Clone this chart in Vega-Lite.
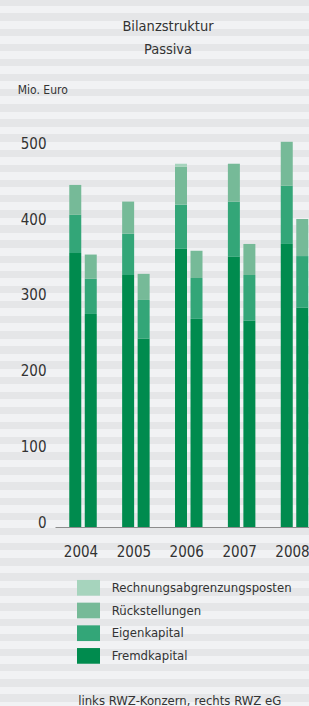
{
  "$schema": "https://vega.github.io/schema/vega-lite/v6.json",
  "width": 309,
  "height": 706,
  "autosize": {"type": "none"},
  "padding": 0,
  "background": "#eceef0",
  "view": {
    "stroke": null,
    "fill": {
      "gradient": "linear", "x1": 0, "y1": 0, "x2": 0, "y2": 1,
      "stops": [
        {"offset": 0, "color": "#e5e6e8"}, {"offset": 0.0080, "color": "#e5e6e8"}, {"offset": 0.0080, "color": "#f1f2f4"},
        {"offset": 0.0190, "color": "#f1f2f4"}, {"offset": 0.0190, "color": "#e5e6e8"}, {"offset": 0.0295, "color": "#e5e6e8"}, {"offset": 0.0295, "color": "#f1f2f4"},
        {"offset": 0.0404, "color": "#f1f2f4"}, {"offset": 0.0404, "color": "#e5e6e8"}, {"offset": 0.0509, "color": "#e5e6e8"}, {"offset": 0.0509, "color": "#f1f2f4"},
        {"offset": 0.0618, "color": "#f1f2f4"}, {"offset": 0.0618, "color": "#e5e6e8"}, {"offset": 0.0723, "color": "#e5e6e8"}, {"offset": 0.0723, "color": "#f1f2f4"},
        {"offset": 0.0833, "color": "#f1f2f4"}, {"offset": 0.0833, "color": "#e5e6e8"}, {"offset": 0.0938, "color": "#e5e6e8"}, {"offset": 0.0938, "color": "#f1f2f4"},
        {"offset": 0.1047, "color": "#f1f2f4"}, {"offset": 0.1047, "color": "#e5e6e8"}, {"offset": 0.1152, "color": "#e5e6e8"}, {"offset": 0.1152, "color": "#f1f2f4"},
        {"offset": 0.1261, "color": "#f1f2f4"}, {"offset": 0.1261, "color": "#e5e6e8"}, {"offset": 0.1366, "color": "#e5e6e8"}, {"offset": 0.1366, "color": "#f1f2f4"},
        {"offset": 0.1476, "color": "#f1f2f4"}, {"offset": 0.1476, "color": "#e5e6e8"}, {"offset": 0.1580, "color": "#e5e6e8"}, {"offset": 0.1580, "color": "#f1f2f4"},
        {"offset": 0.1690, "color": "#f1f2f4"}, {"offset": 0.1690, "color": "#e5e6e8"}, {"offset": 0.1795, "color": "#e5e6e8"}, {"offset": 0.1795, "color": "#f1f2f4"},
        {"offset": 0.1904, "color": "#f1f2f4"}, {"offset": 0.1904, "color": "#e5e6e8"}, {"offset": 0.2009, "color": "#e5e6e8"}, {"offset": 0.2009, "color": "#f1f2f4"},
        {"offset": 0.2119, "color": "#f1f2f4"}, {"offset": 0.2119, "color": "#e5e6e8"}, {"offset": 0.2223, "color": "#e5e6e8"}, {"offset": 0.2223, "color": "#f1f2f4"},
        {"offset": 0.2333, "color": "#f1f2f4"}, {"offset": 0.2333, "color": "#e5e6e8"}, {"offset": 0.2438, "color": "#e5e6e8"}, {"offset": 0.2438, "color": "#f1f2f4"},
        {"offset": 0.2547, "color": "#f1f2f4"}, {"offset": 0.2547, "color": "#e5e6e8"}, {"offset": 0.2652, "color": "#e5e6e8"}, {"offset": 0.2652, "color": "#f1f2f4"},
        {"offset": 0.2761, "color": "#f1f2f4"}, {"offset": 0.2761, "color": "#e5e6e8"}, {"offset": 0.2866, "color": "#e5e6e8"}, {"offset": 0.2866, "color": "#f1f2f4"},
        {"offset": 0.2976, "color": "#f1f2f4"}, {"offset": 0.2976, "color": "#e5e6e8"}, {"offset": 0.3081, "color": "#e5e6e8"}, {"offset": 0.3081, "color": "#f1f2f4"},
        {"offset": 0.3190, "color": "#f1f2f4"}, {"offset": 0.3190, "color": "#e5e6e8"}, {"offset": 0.3295, "color": "#e5e6e8"}, {"offset": 0.3295, "color": "#f1f2f4"},
        {"offset": 0.3404, "color": "#f1f2f4"}, {"offset": 0.3404, "color": "#e5e6e8"}, {"offset": 0.3509, "color": "#e5e6e8"}, {"offset": 0.3509, "color": "#f1f2f4"},
        {"offset": 0.3619, "color": "#f1f2f4"}, {"offset": 0.3619, "color": "#e5e6e8"}, {"offset": 0.3724, "color": "#e5e6e8"}, {"offset": 0.3724, "color": "#f1f2f4"},
        {"offset": 0.3833, "color": "#f1f2f4"}, {"offset": 0.3833, "color": "#e5e6e8"}, {"offset": 0.3938, "color": "#e5e6e8"}, {"offset": 0.3938, "color": "#f1f2f4"},
        {"offset": 0.4047, "color": "#f1f2f4"}, {"offset": 0.4047, "color": "#e5e6e8"}, {"offset": 0.4152, "color": "#e5e6e8"}, {"offset": 0.4152, "color": "#f1f2f4"},
        {"offset": 0.4262, "color": "#f1f2f4"}, {"offset": 0.4262, "color": "#e5e6e8"}, {"offset": 0.4366, "color": "#e5e6e8"}, {"offset": 0.4366, "color": "#f1f2f4"},
        {"offset": 0.4476, "color": "#f1f2f4"}, {"offset": 0.4476, "color": "#e5e6e8"}, {"offset": 0.4581, "color": "#e5e6e8"}, {"offset": 0.4581, "color": "#f1f2f4"},
        {"offset": 0.4690, "color": "#f1f2f4"}, {"offset": 0.4690, "color": "#e5e6e8"}, {"offset": 0.4795, "color": "#e5e6e8"}, {"offset": 0.4795, "color": "#f1f2f4"},
        {"offset": 0.4905, "color": "#f1f2f4"}, {"offset": 0.4905, "color": "#e5e6e8"}, {"offset": 0.5009, "color": "#e5e6e8"}, {"offset": 0.5009, "color": "#f1f2f4"},
        {"offset": 0.5119, "color": "#f1f2f4"}, {"offset": 0.5119, "color": "#e5e6e8"}, {"offset": 0.5224, "color": "#e5e6e8"}, {"offset": 0.5224, "color": "#f1f2f4"},
        {"offset": 0.5333, "color": "#f1f2f4"}, {"offset": 0.5333, "color": "#e5e6e8"}, {"offset": 0.5438, "color": "#e5e6e8"}, {"offset": 0.5438, "color": "#f1f2f4"},
        {"offset": 0.5547, "color": "#f1f2f4"}, {"offset": 0.5547, "color": "#e5e6e8"}, {"offset": 0.5652, "color": "#e5e6e8"}, {"offset": 0.5652, "color": "#f1f2f4"},
        {"offset": 0.5762, "color": "#f1f2f4"}, {"offset": 0.5762, "color": "#e5e6e8"}, {"offset": 0.5867, "color": "#e5e6e8"}, {"offset": 0.5867, "color": "#f1f2f4"},
        {"offset": 0.5976, "color": "#f1f2f4"}, {"offset": 0.5976, "color": "#e5e6e8"}, {"offset": 0.6081, "color": "#e5e6e8"}, {"offset": 0.6081, "color": "#f1f2f4"},
        {"offset": 0.6190, "color": "#f1f2f4"}, {"offset": 0.6190, "color": "#e5e6e8"}, {"offset": 0.6295, "color": "#e5e6e8"}, {"offset": 0.6295, "color": "#f1f2f4"},
        {"offset": 0.6405, "color": "#f1f2f4"}, {"offset": 0.6405, "color": "#e5e6e8"}, {"offset": 0.6509, "color": "#e5e6e8"}, {"offset": 0.6509, "color": "#f1f2f4"},
        {"offset": 0.6619, "color": "#f1f2f4"}, {"offset": 0.6619, "color": "#e5e6e8"}, {"offset": 0.6724, "color": "#e5e6e8"}, {"offset": 0.6724, "color": "#f1f2f4"},
        {"offset": 0.6833, "color": "#f1f2f4"}, {"offset": 0.6833, "color": "#e5e6e8"}, {"offset": 0.6938, "color": "#e5e6e8"}, {"offset": 0.6938, "color": "#f1f2f4"},
        {"offset": 0.7048, "color": "#f1f2f4"}, {"offset": 0.7048, "color": "#e5e6e8"}, {"offset": 0.7152, "color": "#e5e6e8"}, {"offset": 0.7152, "color": "#f1f2f4"},
        {"offset": 0.7262, "color": "#f1f2f4"}, {"offset": 0.7262, "color": "#e5e6e8"}, {"offset": 0.7367, "color": "#e5e6e8"}, {"offset": 0.7367, "color": "#f1f2f4"},
        {"offset": 0.7476, "color": "#f1f2f4"}, {"offset": 0.7476, "color": "#e5e6e8"}, {"offset": 0.7581, "color": "#e5e6e8"}, {"offset": 0.7581, "color": "#f1f2f4"},
        {"offset": 0.7691, "color": "#f1f2f4"}, {"offset": 0.7691, "color": "#e5e6e8"}, {"offset": 0.7795, "color": "#e5e6e8"}, {"offset": 0.7795, "color": "#f1f2f4"},
        {"offset": 0.7905, "color": "#f1f2f4"}, {"offset": 0.7905, "color": "#e5e6e8"}, {"offset": 0.8010, "color": "#e5e6e8"}, {"offset": 0.8010, "color": "#f1f2f4"},
        {"offset": 0.8119, "color": "#f1f2f4"}, {"offset": 0.8119, "color": "#e5e6e8"}, {"offset": 0.8224, "color": "#e5e6e8"}, {"offset": 0.8224, "color": "#f1f2f4"},
        {"offset": 0.8333, "color": "#f1f2f4"}, {"offset": 0.8333, "color": "#e5e6e8"}, {"offset": 0.8438, "color": "#e5e6e8"}, {"offset": 0.8438, "color": "#f1f2f4"},
        {"offset": 0.8548, "color": "#f1f2f4"}, {"offset": 0.8548, "color": "#e5e6e8"}, {"offset": 0.8653, "color": "#e5e6e8"}, {"offset": 0.8653, "color": "#f1f2f4"},
        {"offset": 0.8762, "color": "#f1f2f4"}, {"offset": 0.8762, "color": "#e5e6e8"}, {"offset": 0.8867, "color": "#e5e6e8"}, {"offset": 0.8867, "color": "#f1f2f4"},
        {"offset": 0.8976, "color": "#f1f2f4"}, {"offset": 0.8976, "color": "#e5e6e8"}, {"offset": 0.9081, "color": "#e5e6e8"}, {"offset": 0.9081, "color": "#f1f2f4"},
        {"offset": 0.9191, "color": "#f1f2f4"}, {"offset": 0.9191, "color": "#e5e6e8"}, {"offset": 0.9295, "color": "#e5e6e8"}, {"offset": 0.9295, "color": "#f1f2f4"},
        {"offset": 0.9405, "color": "#f1f2f4"}, {"offset": 0.9405, "color": "#e5e6e8"}, {"offset": 0.9510, "color": "#e5e6e8"}, {"offset": 0.9510, "color": "#f1f2f4"},
        {"offset": 0.9619, "color": "#f1f2f4"}, {"offset": 0.9619, "color": "#e5e6e8"}, {"offset": 0.9724, "color": "#e5e6e8"}, {"offset": 0.9724, "color": "#f1f2f4"},
        {"offset": 0.9834, "color": "#f1f2f4"}, {"offset": 0.9834, "color": "#e5e6e8"}, {"offset": 0.9938, "color": "#e5e6e8"}, {"offset": 0.9938, "color": "#f1f2f4"},
        {"offset": 1, "color": "#f1f2f4"}
      ]
    }
  },
  "title": {
    "text": ["Bilanzstruktur", "Passiva"],
    "frame": "group",
    "anchor": "middle",
    "dx": 13.5,
    "offset": -69,
    "baseline": "alphabetic",
    "lineHeight": 23.3,
    "font": "Liberation Sans Narrow, DejaVu Sans Condensed, Liberation Sans",
    "fontSize": 14.5,
    "fontWeight": "normal",
    "color": "#333333"
  },
  "data": {
    "values": [
      {"jahr": "2004", "einheit": "RWZ-Konzern", "kategorie": "Fremdkapital", "rang": 1, "wert": 362},
      {"jahr": "2004", "einheit": "RWZ-Konzern", "kategorie": "Eigenkapital", "rang": 2, "wert": 50.5},
      {"jahr": "2004", "einheit": "RWZ-Konzern", "kategorie": "Rückstellungen", "rang": 3, "wert": 39.5},
      {"jahr": "2004", "einheit": "RWZ eG", "kategorie": "Fremdkapital", "rang": 1, "wert": 281.5},
      {"jahr": "2004", "einheit": "RWZ eG", "kategorie": "Eigenkapital", "rang": 2, "wert": 46.5},
      {"jahr": "2004", "einheit": "RWZ eG", "kategorie": "Rückstellungen", "rang": 3, "wert": 32},
      {"jahr": "2005", "einheit": "RWZ-Konzern", "kategorie": "Fremdkapital", "rang": 1, "wert": 333},
      {"jahr": "2005", "einheit": "RWZ-Konzern", "kategorie": "Eigenkapital", "rang": 2, "wert": 54.5},
      {"jahr": "2005", "einheit": "RWZ-Konzern", "kategorie": "Rückstellungen", "rang": 3, "wert": 42.5},
      {"jahr": "2005", "einheit": "RWZ eG", "kategorie": "Fremdkapital", "rang": 1, "wert": 249},
      {"jahr": "2005", "einheit": "RWZ eG", "kategorie": "Eigenkapital", "rang": 2, "wert": 51},
      {"jahr": "2005", "einheit": "RWZ eG", "kategorie": "Rückstellungen", "rang": 3, "wert": 34.5},
      {"jahr": "2006", "einheit": "RWZ-Konzern", "kategorie": "Fremdkapital", "rang": 1, "wert": 367.5},
      {"jahr": "2006", "einheit": "RWZ-Konzern", "kategorie": "Eigenkapital", "rang": 2, "wert": 58.5},
      {"jahr": "2006", "einheit": "RWZ-Konzern", "kategorie": "Rückstellungen", "rang": 3, "wert": 50},
      {"jahr": "2006", "einheit": "RWZ-Konzern", "kategorie": "Rechnungsabgrenzungsposten", "rang": 4, "wert": 4},
      {"jahr": "2006", "einheit": "RWZ eG", "kategorie": "Fremdkapital", "rang": 1, "wert": 275},
      {"jahr": "2006", "einheit": "RWZ eG", "kategorie": "Eigenkapital", "rang": 2, "wert": 54},
      {"jahr": "2006", "einheit": "RWZ eG", "kategorie": "Rückstellungen", "rang": 3, "wert": 36},
      {"jahr": "2007", "einheit": "RWZ-Konzern", "kategorie": "Fremdkapital", "rang": 1, "wert": 357},
      {"jahr": "2007", "einheit": "RWZ-Konzern", "kategorie": "Eigenkapital", "rang": 2, "wert": 73},
      {"jahr": "2007", "einheit": "RWZ-Konzern", "kategorie": "Rückstellungen", "rang": 3, "wert": 50},
      {"jahr": "2007", "einheit": "RWZ eG", "kategorie": "Fremdkapital", "rang": 1, "wert": 272.5},
      {"jahr": "2007", "einheit": "RWZ eG", "kategorie": "Eigenkapital", "rang": 2, "wert": 60.5},
      {"jahr": "2007", "einheit": "RWZ eG", "kategorie": "Rückstellungen", "rang": 3, "wert": 41},
      {"jahr": "2008", "einheit": "RWZ-Konzern", "kategorie": "Fremdkapital", "rang": 1, "wert": 374},
      {"jahr": "2008", "einheit": "RWZ-Konzern", "kategorie": "Eigenkapital", "rang": 2, "wert": 77},
      {"jahr": "2008", "einheit": "RWZ-Konzern", "kategorie": "Rückstellungen", "rang": 3, "wert": 58},
      {"jahr": "2008", "einheit": "RWZ eG", "kategorie": "Fremdkapital", "rang": 1, "wert": 290},
      {"jahr": "2008", "einheit": "RWZ eG", "kategorie": "Eigenkapital", "rang": 2, "wert": 68},
      {"jahr": "2008", "einheit": "RWZ eG", "kategorie": "Rückstellungen", "rang": 3, "wert": 49}
    ]
  },
  "mark": {"type": "bar"},
  "encoding": {
    "x": {
      "field": "jahr",
      "type": "nominal",
      "scale": {"type": "band", "range": [55, 309], "paddingInner": 0.48, "paddingOuter": 0.142, "align": 0.95},
      "axis": {
        "orient": "bottom",
        "offset": -179,
        "labelAngle": 0,
        "ticks": false,
        "tickSize": 0,
        "domainColor": "#8c8c8c",
        "domainWidth": 1,
        "labelPadding": 29.5,
        "labelBaseline": "alphabetic",
        "labelOffset": -2,
        "labelFontSize": 15,
        "labelColor": "#333333",
        "title": "links RWZ-Konzern, rechts RWZ eG",
        "titleX": 77.7,
        "titleY": 177.5,
        "titleAlign": "left",
        "titleAnchor": "start",
        "titleBaseline": "alphabetic",
        "titleFontSize": 13,
        "titleFontWeight": "normal",
        "titleColor": "#333333"
      }
    },
    "xOffset": {
      "field": "einheit",
      "type": "nominal",
      "sort": ["RWZ-Konzern", "RWZ eG"],
      "scale": {"paddingInner": 0.2258, "paddingOuter": 0}
    },
    "y": {
      "field": "wert",
      "type": "quantitative",
      "stack": "zero",
      "scale": {"domain": [0, 500], "range": [527, 148.6], "nice": false},
      "axis": {
        "orient": "left",
        "offset": -55,
        "values": [0, 100, 200, 300, 400, 500],
        "domain": false,
        "ticks": false,
        "tickSize": 0,
        "grid": false,
        "labelPadding": 9,
        "labelBaseline": "alphabetic",
        "labelFontSize": 15,
        "labelColor": "#333333",
        "title": "Mio. Euro",
        "titleAngle": 0,
        "titleX": -37.7,
        "titleY": 93.3,
        "titleAlign": "left",
        "titleBaseline": "alphabetic",
        "titleFontSize": 12,
        "titleFontWeight": "normal",
        "titleColor": "#333333"
      }
    },
    "order": {"field": "rang", "type": "quantitative", "sort": "ascending"},
    "color": {
      "field": "kategorie",
      "type": "nominal",
      "scale": {
        "domain": ["Rechnungsabgrenzungsposten", "Rückstellungen", "Eigenkapital", "Fremdkapital"],
        "range": ["#a6d4bd", "#76ba98", "#33a678", "#008b4e"]
      },
      "legend": {
        "orient": "none",
        "legendX": 77,
        "legendY": 576.3,
        "direction": "vertical",
        "title": null,
        "padding": 0,
        "symbolType": "M-1,-0.683H1V0.683H-1Z",
        "symbolSize": 529,
        "symbolStrokeWidth": 0,
        "symbolOpacity": 1,
        "rowPadding": 2.7,
        "labelOffset": 11.7,
        "labelFontSize": 13,
        "labelColor": "#333333",
        "labelLimit": 300
      }
    }
  },
  "config": {
    "font": "Liberation Sans Narrow, DejaVu Sans Condensed, Liberation Sans",
    "axis": {"labelFont": "Liberation Sans Narrow, DejaVu Sans Condensed, Liberation Sans", "titleFont": "Liberation Sans Narrow, DejaVu Sans Condensed, Liberation Sans"},
    "legend": {"labelFont": "Liberation Sans Narrow, DejaVu Sans Condensed, Liberation Sans"}
  }
}
